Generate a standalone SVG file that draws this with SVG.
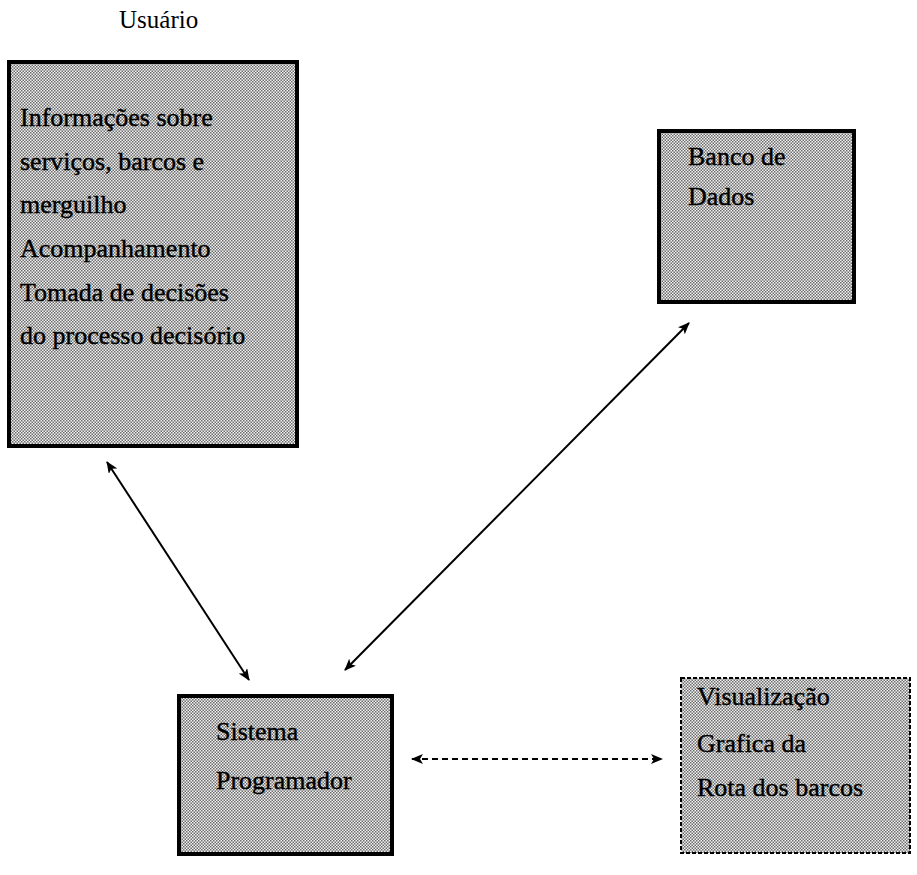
<svg xmlns="http://www.w3.org/2000/svg" width="917" height="875" viewBox="0 0 917 875">
  <defs>
    <!-- fine halftone screen used as the box fill -->
    <pattern id="screen" patternUnits="userSpaceOnUse" width="3" height="3">
      <rect width="3" height="3" fill="#f0f0f0"/>
      <rect x="0" y="0" width="1.5" height="1.5" fill="#6e6e6e"/>
      <rect x="1.5" y="1.5" width="1.5" height="1.5" fill="#6e6e6e"/>
    </pattern>
    <marker id="head" viewBox="0 0 12 10" refX="11" refY="5" markerWidth="12" markerHeight="10" markerUnits="userSpaceOnUse" orient="auto-start-reverse">
      <path d="M0,0 L12,5 L0,10 L3,5 Z" fill="#000"/>
    </marker>
  </defs>
  <style>
    .box { fill: url(#screen); stroke: #000; stroke-width: 4; }
    .box-dashed { fill: url(#screen); stroke: #000; stroke-width: 2; stroke-dasharray: 4 2; }
    .label { font-family: "Liberation Serif", "Times New Roman", serif; font-size: 26px; fill: #000; stroke: #000; stroke-width: 0.4; }
    .title { font-family: "Liberation Serif", "Times New Roman", serif; font-size: 25px; fill: #000; }
    .link { stroke: #000; stroke-width: 2; fill: none; marker-start: url(#head); marker-end: url(#head); }
    .link-dashed { stroke-dasharray: 6 4; }
  </style>

  <rect width="917" height="875" fill="#fff"/>

  <g id="usuario">
    <text class="title" x="119" y="28">Usuário</text>
    <rect class="box" x="9" y="62" width="288" height="384"/>
    <text class="label" x="20" y="126">Informações sobre</text>
    <text class="label" x="20" y="170">serviços, barcos e</text>
    <text class="label" x="20" y="213">merguilho</text>
    <text class="label" x="20" y="257">Acompanhamento</text>
    <text class="label" x="20" y="301">Tomada de decisões</text>
    <text class="label" x="20" y="344">do processo decisório</text>
  </g>

  <g id="banco-de-dados">
    <rect class="box" x="659" y="131" width="195" height="171"/>
    <text class="label" x="688" y="165">Banco de</text>
    <text class="label" x="688" y="205">Dados</text>
  </g>

  <g id="sistema-programador">
    <rect class="box" x="179" y="696" width="213" height="158"/>
    <text class="label" x="216" y="740">Sistema</text>
    <text class="label" x="216" y="789">Programador</text>
  </g>

  <g id="visualizacao">
    <rect class="box-dashed" x="681" y="678" width="229" height="175"/>
    <text class="label" x="697" y="705">Visualização</text>
    <text class="label" x="697" y="752">Grafica da</text>
    <text class="label" x="697" y="796">Rota dos barcos</text>
  </g>

  <g id="connectors">
    <line class="link" x1="107" y1="462" x2="249" y2="680"/>
    <line class="link" x1="689" y1="323" x2="345" y2="670"/>
    <line class="link link-dashed" x1="412" y1="759" x2="662" y2="759"/>
  </g>
</svg>
